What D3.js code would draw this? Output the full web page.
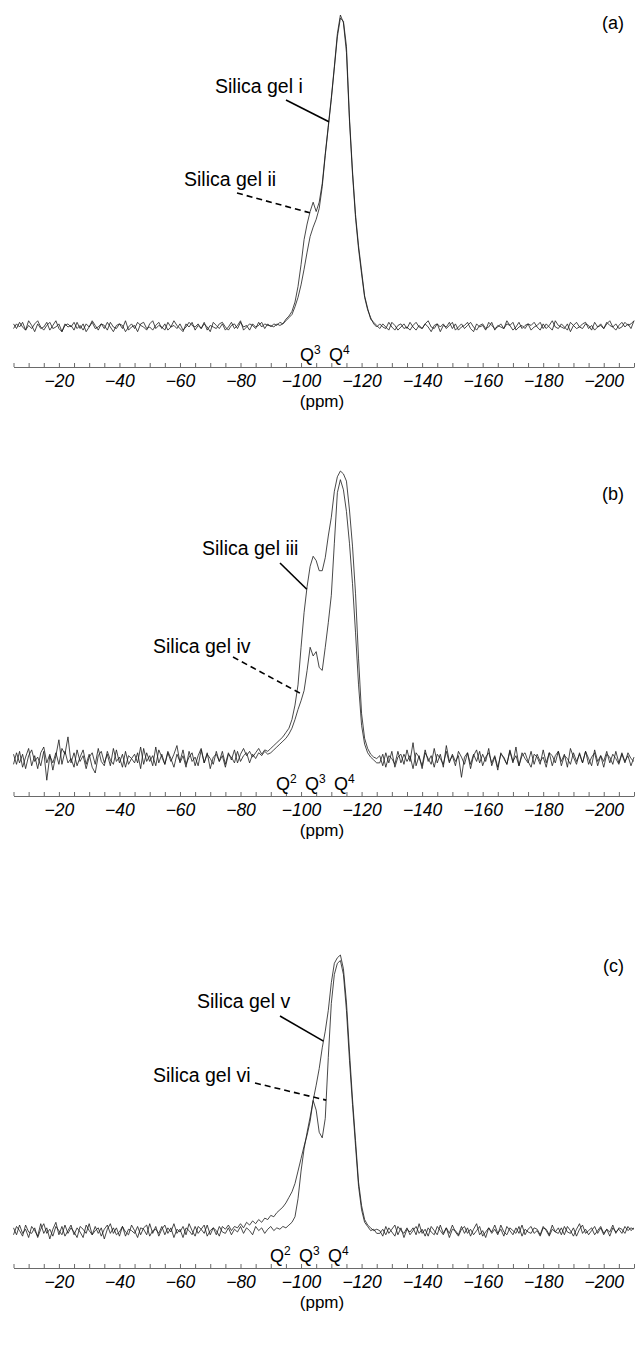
<!DOCTYPE html>
<html><head><meta charset="utf-8">
<script src="https://cdn.jsdelivr.net/npm/d3@7"></script>
<style>body{margin:0;background:#fff}svg{display:block}</style>
</head><body>
<svg id="chart" width="641" height="1354"></svg>
<script>
// ---------------- DATA ----------------
const tickLabels = [-20,-40,-60,-80,-100,-120,-140,-160,-180,-200];
const minorTicks = d3.range(-5, -211, -5);
const lowStart = -5, peakStartAB = -90, peakStartC = -75, highStart = -126;

// Panel (a)
const gelI_low = [2,-1,3,0,-2,4,1,-3,2,-1, 0,3,-2,1,4,-1,-3,2,0,1, -2,3,-1,2,-3,0,4,1,-2,2, -1,3,0,-3,1,2,-1,4,-2,0,
  1,-3,2,3,-1,0,-2,1,3,-1, 2,-2,0,4,1,-1,-3,2,0,3, -2,1,-1,2,0,-3,3,1,-1,2, -2,0,3,-1,1,4,-2,0,2,1, -1,3,0,2,1];
const gelI_peak = [1,0,2,1,2,4,6,8,13,19, 27,37,48,58,64,69,76,90,110,128, 146,166,186,198,196,180,134,100,72,52, 36,20,12,5,3,1];
const gelI_high = [-1,2,0,-2,3,1,-2,0,2,-1, 3,0,-2,1,-1,2,4,0,-1,2, -3,1,0,3,-1,2,-2,0,1,3, -1,-3,2,0,1,-2,3,1,-1,0,
  2,-1,4,1,-2,0,3,-1,1,2, -2,0,1,3,-1,2,0,-2,4,1, 0,-1,2,-3,1,3,0,-1,2,1, -2,3,0,1,-1,2,4,0,-2,1, 3,0,2,-1,4];
const gelII_low = [-1,2,0,3,-2,1,-1,2,4,0, -2,1,3,-1,0,2,-3,1,2,0, 3,-1,1,-2,2,0,3,-1,0,2, 1,-2,3,0,-1,2,1,-3,0,2,
  -1,3,1,0,-2,2,4,-1,1,0, -2,3,0,1,-1,2,-2,0,3,1, 0,2,-1,3,-2,1,0,-1,2,3, 0,-2,1,2,-1,3,0,1,-2,2, 0,1,3,-1,2];
const gelII_peak = [0,2,1,3,2,5,7,10,16,26, 40,56,66,74,80,74,80,92,111,129, 147,167,188,200,195,176,132,98,70,50, 34,19,11,6,2,0];
const gelII_high = [2,0,-1,3,0,-2,1,2,-1,0, -2,1,3,0,-1,2,0,-3,1,2, 0,2,-1,1,3,-2,0,2,-1,1, 3,0,-2,1,2,-1,0,3,-2,1,
  0,-1,2,1,3,-2,0,1,-1,2, 1,3,0,-2,2,-1,1,4,0,-1, 2,0,-2,3,1,-1,0,2,3,-1, 1,-2,0,2,-1,3,1,0,2,-1, 0,3,1,2,4];

// Panel (b)
const gelIII_low = [4,-3,6,-5,2,8,-4,3,-6,5, 9,-2,4,-7,3,14,-3,6,-2,1, -5,7,-1,3,-6,2,5,-3,8,-1, -4,6,0,-3,7,-2,4,-5,3,1,
  -2,5,-6,8,-1,3,-4,9,-2,4, -3,6,1,-5,4,-1,7,-3,2,5, -4,3,8,-2,5,-6,2,4,-1,6, -3,5,0,7,-2,4,8,3,6,2, 5,8,4,7,6];
const gelIII_peak = [8,10,12,14,16,19,22,28,38,52, 78,102,120,134,141,138,131,131,140,155, 168,186,196,200,198,193,173,148,115,70, 32,15,8,4,2,1];
const gelIII_high = [3,-4,5,-2,6,-5,2,4,-3,7, -1,12,-4,3,-6,5,1,-3,8,-2, 4,-5,10,-1,3,-4,6,2,-3,5, -6,3,7,-2,4,-1,8,-4,2,-7,
  5,1,-3,6,-2,9,-4,3,5,-1, -5,4,2,-3,7,-2,5,-4,3,6, -1,4,-5,8,2,-3,5,-2,6,1, -4,7,-1,3,-5,4,2,-3,6,-2, 5,-1,3,-4,2];
const gelIV_low = [-3,5,-2,4,-6,3,7,-1,2,-4, 6,-14,3,-2,5,-3,8,4,16,-2, 5,-4,2,7,-3,4,-5,-9,3,6, -2,4,-4,8,-1,2,-5,6,-3,1,
  4,-2,9,-3,5,-1,3,-4,7,2, -3,5,-1,4,10,-2,3,-5,6,-1, 2,-4,7,-2,4,1,-3,6,-1,3, -5,4,2,-2,6,-1,3,5,-2,4, 1,5,3,6,4];
const gelIV_peak = [5,7,9,11,13,15,18,22,28,35, 41,48,62,78,72,75,64,62,78,95, 114,150,185,194,187,172,150,122,88,52, 24,11,5,2,0,-2];
const gelIV_high = [-2,4,-5,3,1,-3,6,-2,4,-1, 3,-6,5,2,-4,7,-1,3,-5,4, 1,-3,6,-2,4,-1,3,-12,2,5, -3,4,-1,6,-4,2,5,-2,3,-5,
  4,2,-3,7,-1,3,-4,5,1,-2, 6,-3,4,-1,2,-5,5,3,-2,6, -4,3,1,-3,5,-1,4,-2,6,-3, 2,5,-4,3,-1,6,-2,4,1,-3, 4,-2,5,1,-1];

// Panel (c)
const gelV_low = [3,-2,5,-1,2,-4,4,1,-3,6, -1,3,-5,2,7,-2,4,-3,1,5, -2,3,0,-4,5,1,-2,4,-1,3, -5,2,6,-1,3,-3,4,0,-2,5,
  1,-4,3,2,-2,6,-1,4,-3,2, 5,-1,3,-4,2,0,4,-2,6,1, -3,4,2,-1,5,-2,3,1,-3,4];
const gelV_peak = [2,5,1,4,3,6,3,7,5,8, 6,9,7,10,9,12,11,14,16,18, 21,25,29,35,44,53,62,70,80,95,
  106,118,133,145,160,180,194,198,200,190, 166,130,96,66,36,19,9,5,3,1, 2];
const gelV_high = [1,-3,4,-1,2,5,-2,3,-4,2, 0,3,-2,6,-1,2,-3,4,1,-2, 5,-1,3,-4,2,1,-2,4,-1,3, -3,2,6,-2,1,-4,3,0,5,-1,
  2,-3,4,1,-2,3,-1,5,-2,2, 4,-1,1,-3,3,2,-2,5,0,-1, 3,-2,4,1,-3,2,6,-1,2,-2, 1,4,-1,3,-2,2,0,5,-1,3, 2,-1,4,1,3];
const gelVI_low = [-2,4,1,-3,5,0,-1,3,-4,2, 6,-1,2,-3,4,1,-2,5,-1,3, 0,-4,4,2,-1,6,-2,1,3,-3, 2,5,-1,3,-2,0,4,-3,2,1,
  -1,4,-2,3,5,-3,1,2,-1,4, -2,3,0,6,-1,2,-4,3,1,-2, 4,-1,2,5,-3,1,3,-2,4,0];
const gelVI_peak = [-1,3,-2,2,0,4,-1,3,1,-2, 4,1,3,-1,2,4,1,3,2,4, 3,5,7,11,24,44,60,72,83,95,
  88,72,68,82,126,165,186,194,196,186, 160,124,92,62,33,16,7,4,1,2, -1];
const gelVI_high = [-1,2,-2,3,0,-3,4,1,-1,3, -2,1,4,-1,2,-3,3,0,-2,4, 1,-2,3,-1,5,0,-3,2,4,-1, 2,-2,1,4,-3,0,3,-1,2,-2,
  5,0,-2,3,1,-1,4,-3,2,0, -1,3,2,-2,4,1,-3,2,0,3, -2,4,0,-1,3,-3,2,5,-1,1, 3,-2,1,4,-1,2,-3,3,0,2, -1,4,1,3,2];

// ---------------- BUILD ----------------
function assemble(segs){ return segs.flatMap(([s, vals]) => vals.map((v,i)=>({ppm: s - i, v}))); }
const gelI = assemble([[lowStart,gelI_low],[peakStartAB,gelI_peak],[highStart,gelI_high]]);
const gelII = assemble([[lowStart,gelII_low],[peakStartAB,gelII_peak],[highStart,gelII_high]]);
const gelIII = assemble([[lowStart,gelIII_low],[peakStartAB,gelIII_peak],[highStart,gelIII_high]]);
const gelIV = assemble([[lowStart,gelIV_low],[peakStartAB,gelIV_peak],[highStart,gelIV_high]]);
const gelV = assemble([[lowStart,gelV_low],[peakStartC,gelV_peak],[highStart,gelV_high]]);
const gelVI = assemble([[lowStart,gelVI_low],[peakStartC,gelVI_peak],[highStart,gelVI_high]]);

const FONT = "'Liberation Sans', Arial, Helvetica, sans-serif";
const svg = d3.select("#chart");
const x = d3.scaleLinear().domain([-5,-210]).range([13.5, 634]);

const panels = [
  {letter:"(a)", letterY:29, axisY:367, baseY:327, topY:15, qY:361, qs:[["3",300],["4",329]],
   series:[gelI, gelII],
   notes:[{text:"Silica gel i", s:0, ppm:-109.2, tx:215, ty:93, sx:286, sy:100, dash:false},
          {text:"Silica gel ii", s:1, ppm:-102.9, tx:184, ty:186, sx:237, sy:193, dash:true}]},
  {letter:"(b)", letterY:500, axisY:796, baseY:760, topY:471, qY:790, qs:[["2",276],["3",305],["4",334]],
   series:[gelIII, gelIV],
   notes:[{text:"Silica gel iii", s:0, ppm:-101.9, tx:202, ty:555, sx:280, sy:563, dash:false},
          {text:"Silica gel iv", s:1, ppm:-100.6, tx:153, ty:653, sx:233, sy:657, dash:true}]},
  {letter:"(c)", letterY:972, axisY:1268, baseY:1232, topY:955, qY:1262, qs:[["2",270],["3",299],["4",328]],
   series:[gelV, gelVI],
   notes:[{text:"Silica gel v", s:0, ppm:-107.4, tx:197, ty:1008, sx:280, sy:1016, dash:false},
          {text:"Silica gel vi", s:1, ppm:-108.3, tx:153, ty:1082, sx:255, sy:1083, dash:true}]}
];

panels.forEach(p => {
  const y = d3.scaleLinear().domain([0,200]).range([p.baseY, p.topY]);
  const g = svg.append("g");
  const line = d3.line().x(d=>x(d.ppm)).y(d=>y(d.v));
  p.series.forEach(s => {
    g.append("path").datum(s).attr("d", line)
      .attr("fill","none").attr("stroke","#1a1a1a").attr("stroke-width",0.8).attr("stroke-linejoin","round");
  });
  const ax = g.append("g").attr("transform",`translate(0,${p.axisY})`)
    .call(d3.axisTop(x).tickValues(minorTicks).tickSize(4).tickSizeOuter(0).tickFormat(""));
  ax.selectAll("path,line").attr("stroke","#6a6a6a");
  const al = g.append("g").attr("transform",`translate(0,${p.axisY})`)
    .call(d3.axisBottom(x).tickValues(tickLabels).tickSize(0).tickPadding(8));
  al.select(".domain").remove();
  al.selectAll("text").attr("font-family",FONT).attr("font-size",17.5).attr("font-style","italic").attr("fill","#000");
  g.append("text").attr("x",322).attr("y",p.axisY+40).attr("text-anchor","middle")
    .attr("font-family",FONT).attr("font-size",17).text("(ppm)");
  p.qs.forEach(([n,qx]) => {
    const t = g.append("text").attr("x",qx).attr("y",p.qY).attr("font-family",FONT).attr("font-size",18);
    t.append("tspan").text("Q");
    t.append("tspan").attr("font-size",12).attr("dy",-7).text(n);
  });
  g.append("text").attr("x",624).attr("y",p.letterY).attr("text-anchor","end")
    .attr("font-family",FONT).attr("font-size",18).text(p.letter);
  p.notes.forEach(n => {
    const s = p.series[n.s];
    const interp = d3.scaleLinear().domain(s.map(d=>d.ppm)).range(s.map(d=>d.v));
    const ex = x(n.ppm), ey = y(interp(n.ppm));
    g.append("line").attr("x1",n.sx).attr("y1",n.sy).attr("x2",ex).attr("y2",ey)
      .attr("stroke","#000").attr("stroke-width",1.6)
      .attr("stroke-dasharray", n.dash ? "6,4" : null);
    g.append("text").attr("x",n.tx).attr("y",n.ty).attr("font-family",FONT).attr("font-size",19.5).text(n.text);
  });
});
</script>
</body></html>
